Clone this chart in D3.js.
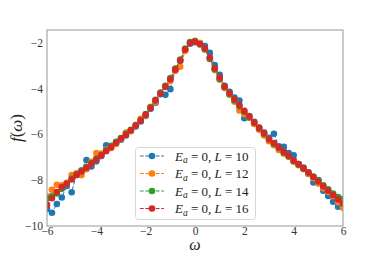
<!DOCTYPE html>
<html><head><meta charset="utf-8">
<script src="https://cdn.jsdelivr.net/npm/d3@7"></script>
<style>body{margin:0;background:#fff}svg{display:block}text{font-family:"Liberation Serif","DejaVu Serif",serif}</style>
</head><body><svg id="c" width="381" height="254"></svg>
<script>
const omega = [-6.0,-5.8,-5.6,-5.4,-5.2,-5.0,-4.8,-4.6,-4.4,-4.2,-4.0,-3.8,-3.6,-3.4,-3.2,-3.0,-2.8,-2.6,-2.4,-2.2,-2.0,-1.8,-1.6,-1.4,-1.2,-1.0,-0.8,-0.6,-0.4,-0.2,0.0,0.2,0.4,0.6,0.8,1.0,1.2,1.4,1.6,1.8,2.0,2.2,2.4,2.6,2.8,3.0,3.2,3.4,3.6,3.8,4.0,4.2,4.4,4.6,4.8,5.0,5.2,5.4,5.6,5.8,6.0];
const fL10 = [-9.26,-9.42,-9.04,-8.76,-8.25,-8.53,-7.72,-7.58,-7.12,-7.4,-7.18,-6.95,-6.48,-6.52,-6.4,-6.24,-6.05,-5.85,-5.66,-5.44,-5.2,-4.88,-4.62,-4.25,-4.28,-4.03,-3.22,-2.8,-2.32,-2.05,-1.98,-2.02,-2.15,-2.45,-2.98,-3.4,-3.88,-4.15,-4.4,-4.53,-5.3,-5.2,-5.45,-5.7,-5.92,-6.15,-5.98,-6.52,-6.55,-6.82,-6.92,-7.3,-7.45,-7.73,-8.1,-8.0,-8.46,-8.69,-8.94,-9.16,-8.82];
const fL12 = [-8.7,-8.42,-8.2,-8.22,-8.12,-7.78,-7.7,-7.78,-7.52,-7.2,-6.82,-6.84,-6.66,-6.6,-6.42,-6.2,-5.92,-5.86,-5.6,-5.32,-5.18,-4.8,-4.58,-4.2,-3.9,-3.68,-3.22,-3.05,-2.36,-2.0,-1.92,-2.02,-2.28,-2.72,-3.2,-3.62,-3.98,-4.28,-4.58,-4.96,-5.12,-5.28,-5.55,-5.8,-6.05,-6.3,-6.48,-6.68,-6.85,-6.98,-7.2,-7.35,-7.52,-7.72,-7.92,-8.15,-8.35,-8.52,-8.7,-8.96,-9.2];
const fL14 = [-8.8,-8.7,-8.58,-8.38,-8.18,-7.93,-7.74,-7.58,-7.42,-7.25,-7.06,-6.9,-6.7,-6.5,-6.33,-6.16,-5.98,-5.8,-5.6,-5.38,-5.12,-4.82,-4.5,-4.18,-3.88,-3.55,-3.13,-2.74,-2.26,-1.98,-1.94,-2.08,-2.3,-2.7,-3.16,-3.58,-3.95,-4.25,-4.52,-4.78,-5.02,-5.26,-5.5,-5.75,-5.98,-6.2,-6.42,-6.6,-6.8,-6.97,-7.16,-7.33,-7.5,-7.66,-7.84,-8.02,-8.22,-8.4,-8.58,-8.74,-8.82];
const fL16 = [-9.08,-8.79,-8.52,-8.3,-8.15,-7.97,-7.77,-7.62,-7.46,-7.28,-7.1,-6.92,-6.74,-6.56,-6.37,-6.18,-6.02,-5.83,-5.62,-5.4,-5.15,-4.85,-4.52,-4.22,-3.93,-3.6,-3.18,-2.78,-2.3,-2.02,-1.96,-2.06,-2.25,-2.65,-3.12,-3.52,-3.92,-4.2,-4.47,-4.74,-4.98,-5.22,-5.48,-5.72,-5.95,-6.22,-6.38,-6.58,-6.76,-6.94,-7.14,-7.3,-7.48,-7.67,-7.86,-8.06,-8.27,-8.46,-8.65,-8.84,-9.02];
const sizesL = ["10","12","14","16"];
const colors = ["#1f77b4","#ff7f0e","#2ca02c","#d62728"];
const xTicks = [-6,-4,-2,0,2,4,6];
const yTicks = [-10,-8,-6,-4,-2];

const series = [fL10,fL12,fL14,fL16];
const svg = d3.select("#c");
const L=47,R=343,T=30,B=226;
const x = d3.scaleLinear().domain([-6,6]).range([L,R]);
const y = d3.scaleLinear().domain([-10,-1.45]).range([B,T]);

// data
const line = d3.line().x((d,i)=>x(omega[i])).y(d=>y(d));
svg.append("clipPath").attr("id","cp").append("rect").attr("x",L).attr("y",T).attr("width",R-L).attr("height",B-T);
const g = svg.append("g").attr("clip-path","url(#cp)");
series.forEach((s,k)=>{
  const gg = g.append("g");
  gg.append("path").datum(s).attr("d",line).attr("fill","none").attr("stroke",colors[k]).attr("stroke-width",1).attr("stroke-dasharray","3.7,1.6");
  gg.selectAll("circle").data(s).join("circle").attr("cx",(d,i)=>x(omega[i])).attr("cy",d=>y(d)).attr("r",3.3).attr("fill",colors[k]);
});

// frame
svg.append("rect").attr("x",L).attr("y",T).attr("width",R-L).attr("height",B-T).attr("fill","none").attr("stroke","#a0a0a0").attr("stroke-width",1.1);

// axes
const xa = svg.append("g").attr("transform",`translate(0,${B})`).call(d3.axisBottom(x).tickValues(xTicks).tickSize(0).tickPadding(1).tickFormat(d=>d<0?"\u2212"+(-d):d));
const ya = svg.append("g").attr("transform",`translate(${L},0)`).call(d3.axisLeft(y).tickValues(yTicks).tickSize(0).tickPadding(4).tickFormat(d=>"\u2212"+(-d)));
[xa,ya].forEach(a=>{a.select(".domain").remove();a.selectAll("text").attr("font-size",11.5).attr("fill","#333").attr("font-family","Liberation Serif, serif");});

svg.append("text").attr("x",195).attr("y",250).attr("text-anchor","middle").attr("font-size",16).attr("font-style","italic").attr("fill","#222").text("ω");
const yl = svg.append("text").attr("transform","translate(22,128) rotate(-90)").attr("text-anchor","middle").attr("font-size",17).attr("fill","#222");
yl.append("tspan").attr("font-style","italic").text("f");
yl.append("tspan").text("(");
yl.append("tspan").attr("font-style","italic").text("ω");
yl.append("tspan").text(")");

// legend
const lg = svg.append("g");
lg.append("rect").attr("x",135.5).attr("y",147.5).attr("width",120).attr("height",72).attr("rx",3).attr("fill","#fff").attr("fill-opacity",0.85).attr("stroke","#d8d8d8").attr("stroke-width",1);
sizesL.forEach((s,k)=>{
  const yy = 156 + k*17.5;
  lg.append("line").attr("x1",140).attr("x2",164).attr("y1",yy).attr("y2",yy).attr("stroke",colors[k]).attr("stroke-width",1).attr("stroke-dasharray","3.7,1.6");
  lg.append("circle").attr("cx",152).attr("cy",yy).attr("r",3.3).attr("fill",colors[k]);
  const t = lg.append("text").attr("x",175).attr("y",yy+4.5).attr("font-size",13).attr("fill","#222");
  t.append("tspan").attr("font-style","italic").text("E");
  t.append("tspan").attr("font-style","italic").attr("font-size",9.5).attr("dy",2.5).text("a");
  t.append("tspan").attr("dy",-2.5).text(" = 0, ");
  t.append("tspan").attr("font-style","italic").text("L");
  t.append("tspan").text(" = "+s);
});
</script></body></html>
